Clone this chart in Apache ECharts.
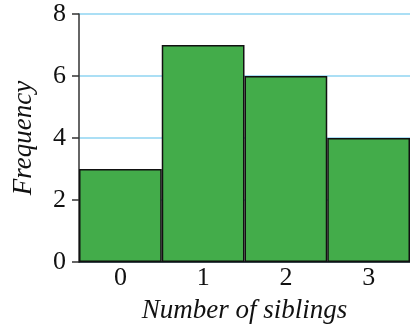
<!DOCTYPE html>
<html><head><meta charset="utf-8">
<script src="https://cdn.jsdelivr.net/npm/echarts@6/dist/echarts.min.js"></script>
<style>html,body{margin:0;padding:0;background:#fff}#c{width:410px;height:327px}</style>
</head><body><div id="c"></div>
<script>
const categories = ['0', '1', '2', '3'];
const frequencies = [3, 7, 6, 4];
const yTicks = { min: 0, max: 8, interval: 2 };
const xTitle = 'Number of siblings';
const yTitle = 'Frequency';

const chart = echarts.init(document.getElementById('c'), null, { renderer: 'canvas' });
const font = 'Liberation Serif';
chart.setOption({
  animation: false,
  grid: { left: 79, right: 0, top: 14, bottom: 65, outerBoundsMode: 'none', containLabel: false },
  xAxis: {
    type: 'category', data: categories,
    name: xTitle, nameLocation: 'middle', nameGap: 35,
    nameTextStyle: { fontFamily: font, fontStyle: 'italic', fontSize: 27, color: '#111' },
    axisLine: { show: true, lineStyle: { color: '#111', width: 1.5 } },
    axisTick: { show: false },
    axisLabel: { fontFamily: font, fontSize: 26, color: '#111', margin: 3 },
    splitLine: { show: false }
  },
  yAxis: {
    type: 'value', min: yTicks.min, max: yTicks.max, interval: yTicks.interval,
    name: yTitle, nameLocation: 'middle', nameGap: 42,
    nameTextStyle: { fontFamily: font, fontStyle: 'italic', fontSize: 27, color: '#111' },
    axisLine: { show: true, lineStyle: { color: '#333', width: 1.5 } },
    axisTick: { show: true, length: 7, lineStyle: { color: '#333', width: 1.5 } },
    axisLabel: { fontFamily: font, fontSize: 26, color: '#111', margin: 13 },
    splitLine: { show: true, lineStyle: { color: '#8fd4f2', width: 1.5 } }
  },
  series: [{
    type: 'bar', data: frequencies, barCategoryGap: '0%',
    itemStyle: { color: '#43ac4a', borderColor: '#111', borderWidth: 1.5 }
  }]
});
</script></body></html>
